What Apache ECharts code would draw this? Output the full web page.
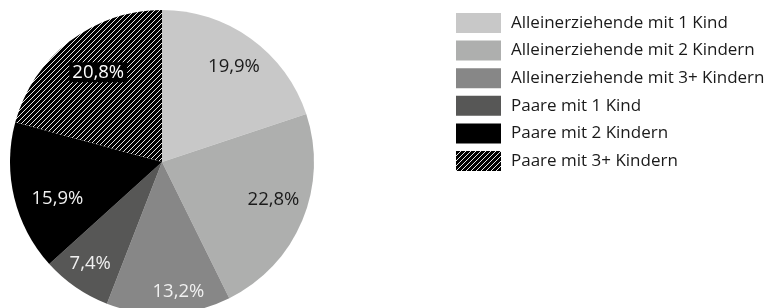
<!DOCTYPE html>
<html>
<head>
<meta charset="utf-8">
<script src="https://cdn.jsdelivr.net/npm/echarts@6/dist/echarts.min.js"></script>
<style>
  html, body { margin: 0; padding: 0; background: #fff; }
  #main { width: 770px; height: 308px; }
</style>
</head>
<body>
<div id="main"></div>
<script>
// Daten
const categories = [
  'Alleinerziehende mit 1 Kind',
  'Alleinerziehende mit 2 Kindern',
  'Alleinerziehende mit 3+ Kindern',
  'Paare mit 1 Kind',
  'Paare mit 2 Kindern',
  'Paare mit 3+ Kindern'
];
const values = [19.9, 22.8, 13.2, 7.4, 15.9, 20.8];

// Farben
const colors = ['#c8c8c8', '#aeafae', '#878787', '#575756', '#000000'];
const labelColors = ['#1a1a1a', '#1a1a1a', '#f0f0f0', '#f0f0f0', '#f0f0f0', '#ffffff'];
// kleine Verschiebungen der Beschriftungen wie im Original
const labelOffsets = [[0, 4], [-2, -10], [11, 7], [-2, 0], [15, 8], [11, 8]];

// Schraffur (schwarz mit weissen Diagonalen)
function hatch() {
  const c = document.createElement('canvas');
  c.width = 5;
  c.height = 5;
  const ctx = c.getContext('2d');
  ctx.fillStyle = '#000';
  ctx.fillRect(0, 0, 5, 5);
  ctx.fillStyle = '#e8e8e8';
  for (let i = 0; i < 5; i++) {
    ctx.fillRect(i, 4 - i, 1, 1);
  }
  return { image: c, repeat: 'repeat' };
}
const hatchFill = hatch();

let chartDom = document.getElementById('main');
let myChart = echarts.init(chartDom);

const fmt = (p) => p.value.toFixed(1).replace('.', ',') + '%';

let option = {
  animation: false,
  legend: {
    orient: 'vertical',
    left: 456,
    top: 13,
    padding: 0,
    itemWidth: 45,
    itemHeight: 20,
    itemGap: 7.6,
    icon: 'rect',
    data: categories,
    textStyle: {
      fontFamily: 'Open Sans',
      fontSize: 17,
      color: '#1a1a1a',
      padding: [0, 0, 0, 5]
    }
  },
  series: [
    {
      type: 'pie',
      center: [162, 162],
      radius: [0, 152],
      startAngle: 90,
      clockwise: true,
      label: { show: false },
      labelLine: { show: false },
      emphasis: { disabled: true },
      itemStyle: { borderWidth: 0 },
      data: values.map((v, i) => ({
        name: categories[i],
        value: v,
        itemStyle: { color: i < 5 ? colors[i] : hatchFill }
      }))
    },
    {
      // nur Beschriftungen
      type: 'pie',
      silent: true,
      center: [162, 162],
      radius: [88, 152],
      startAngle: 90,
      clockwise: true,
      labelLine: { show: false },
      itemStyle: { color: 'transparent' },
      data: values.map((v, i) => ({
        name: categories[i],
        value: v,
        label: {
          show: true,
          position: 'inside',
          formatter: fmt,
          fontFamily: 'Open Sans',
          fontSize: 18.5,
          color: labelColors[i],
          offset: labelOffsets[i],
          backgroundColor: i === 5 ? '#000' : 'transparent',
          padding: i === 5 ? [1, 3, 0, 3] : 0
        }
      }))
    }
  ]
};

option && myChart.setOption(option);
</script>
</body>
</html>
